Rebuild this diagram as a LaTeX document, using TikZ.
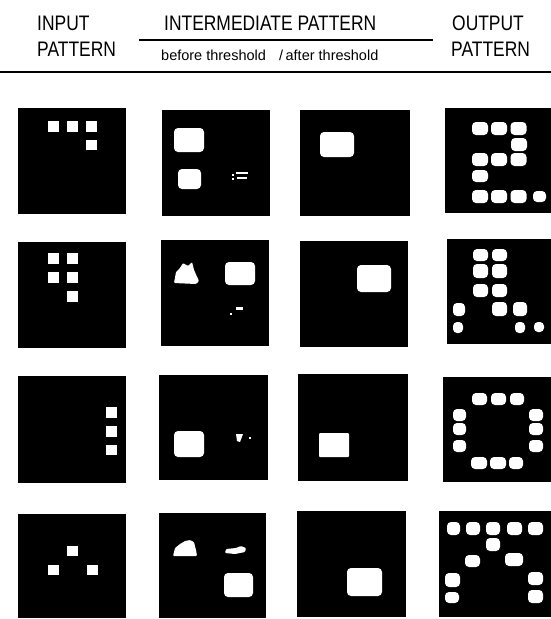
\documentclass[tikz,border=0pt]{standalone}
\usepackage{fontspec}
\setmainfont{Liberation Sans}
\newfontfamily\headfont[FakeStretch=0.83]{Liberation Sans}
\usepackage{tikz}
\usetikzlibrary{positioning}

\begin{document}
\begin{tikzpicture}[x=1pt, y=-1pt,
  head/.style={font=\headfont\fontsize{21}{21}\selectfont, inner sep=0pt, anchor=base west},
  sub/.style={font=\fontsize{14.5}{14.5}\selectfont, inner sep=0pt, anchor=base west},
  panel/.style={fill=black},
  cell/.style={fill=white},
  blob/.style={fill=white, rounded corners=4pt},
  spot/.style={fill=white, rounded corners=1pt}
]
\useasboundingbox (0,0) rectangle (551,619);

% headings
\node[head] (inp) at (37,30) {INPUT};
\node[head] (inpb) at (37,56) {PATTERN};
\node[head] (mid) at (164,30) {INTERMEDIATE PATTERN};
\node[sub] (bef) at (161,60) {before threshold};
\node[sub] (aft) at (279,60) {/\,after threshold};
\node[head] (outp) at (452,30) {OUTPUT};
\node[head] (outpb) at (451,56) {PATTERN};
\draw[line width=1.2pt] (139,40) -- (433,40);
\draw[line width=1.8pt] (0,72) -- (551,72);

% black panels
\foreach \xa/\ya/\xb/\yb in {18/108/126/214, 162/110/270/216, 300/110/410/216, 445/108/551/213,
  18/242/126/348, 161/240/269/346, 300/241/408/347, 447/239/551/344,
  18/376/126/483, 159/375/268/480, 298/374/408/481, 443/377/551/482,
  18/514/126/618, 159/513/266/618, 297/511/406/617, 439/511/551/617}
  \fill[panel] (\xa,\ya) rectangle (\xb,\yb);

% input patterns
\foreach \x/\y in {48/121, 67/121, 86/121, 86/139.5,
  48/253, 67/253, 48/272, 67/272, 67/291,
  105.5/407, 105.5/426, 105.5/444.5,
  67/545.5, 48/564.5, 86.5/564.5}
  \fill[cell] (\x,\y) rectangle ++(11,10.5);

% before threshold
\fill[blob] (174,128) rectangle (204,152);
\fill[blob] (178,169) rectangle (201,189);
\foreach \x/\y/\w/\h in {236/172/12/2, 237/177/10/2, 232/174/1.5/2, 232/178/1.5/2}
  \fill[white] (\x,\y) rectangle ++(\w,\h);
\fill[spot] (174,283) -- (176,272) -- (180,268) -- (183,263) -- (188,266) -- (192,262)
  -- (194,270) -- (199,281) -- (196,284) -- cycle;
\fill[blob] (225,262) rectangle (255,285);
\fill[white] (236,307) rectangle ++(7,3);
\fill[white] (230,313) rectangle ++(2,2);
\fill[blob] (174,431) rectangle (204,457);
\fill[white] (236,434) -- (243,434) -- (240,442) -- (237,441) -- cycle;
\fill[white] (249,437) rectangle ++(2,2);
\fill[spot] (173,556) -- (175,548) -- (180,544) -- (185,541) -- (190,540) -- (194,542)
  -- (196,550) -- (197,556) -- cycle;
\fill[spot] (225,553) -- (226,549) -- (236,548) -- (241,546) -- (246,548) -- (245,552)
  -- (235,554) -- cycle;
\fill[blob] (224,573) rectangle (253,597);

% after threshold
\fill[blob] (320,132) rectangle (354,157);
\fill[blob] (357,265) rectangle (391,292);
\fill[spot] (319,433) rectangle (349,457);
\fill[blob] (347,568) rectangle (382,596);

% output patterns
\foreach \x/\y/\w/\h in {472/122/16/13, 491/122/16/13, 510.5/122/16/13, 511/138/16/13,
  472/153/16/13, 491/153/16/13, 510.5/153/16/13, 472/170/16/12,
  472/190/16/13, 491/190/16/13, 510.5/190/16/13, 533/191/13/11,
  473/249/15/12, 492/249/15/12, 473/264/15/14, 492/264/15/14, 473/284/15/13, 492/284/15/13,
  453/303/12/13, 492/302/15/14, 513/302/14/14, 453/322/10/11, 515/322/10/11, 534/322/10/10,
  472/393/15/12, 491/393/15/12, 510/393/14/12,
  453/409/13/12, 453/423/13/12, 453/440/13/12, 529/409/14/12, 529/423/14/12, 529/440/14/12,
  471/457/16/12, 490/457/16/12, 509/457/14/12,
  447/522/13/13, 466/522/14/13, 486/522/14/13, 507/522/15/13, 528/522/15/13,
  486/538/14/13, 465/555/15/12, 505/553/18/13,
  445/573/15/14, 528/572/15/13, 445/592/14/11, 528/590/15/13}
  \fill[blob] (\x,\y) rectangle ++(\w,\h);
\end{tikzpicture}
\end{document}
